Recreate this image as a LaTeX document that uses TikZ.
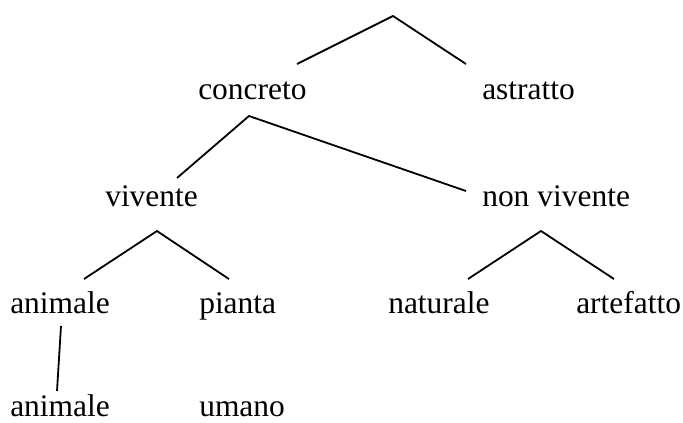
\documentclass[tikz,border=0pt]{standalone}
\usepackage{fontspec}
\setmainfont{Liberation Serif}
\begin{document}
\begin{tikzpicture}[x=0.75pt,y=-0.75pt,
  lbl/.style={anchor=base west,inner sep=0pt,font=\fontsize{23.6}{28}\selectfont},
  edge/.style={line width=1.35pt,black}]
\useasboundingbox (0,0) rectangle (683,422);
% labels
\node[lbl] (concreto) at (198,99.5) {concreto};
\node[lbl] (astratto) at (482,99.5) {astratto};
\node[lbl] (vivente) at (105,206) {vivente};
\node[lbl] (nonvivente) at (482,206) {non vivente};
\node[lbl] (animale) at (10,313) {animale};
\node[lbl] (pianta) at (199,313) {pianta};
\node[lbl] (naturale) at (388,313) {naturale};
\node[lbl] (artefatto) at (576,313) {artefatto};
\node[lbl] (animale2) at (10,416) {animale};
\node[lbl] (umano) at (199,416) {umano};
% connector ends
\coordinate (root) at (393,16);
\coordinate (concreto-top) at (297,64);
\coordinate (astratto-top) at (466,64);
\coordinate (concreto-bot) at (249,116);
\coordinate (vivente-top) at (177,178);
\coordinate (nonvivente-top) at (466,191);
\coordinate (vivente-bot) at (157,231);
\coordinate (animale-top) at (84,279);
\coordinate (pianta-top) at (229,279);
\coordinate (nonvivente-bot) at (541,231);
\coordinate (naturale-top) at (468,279);
\coordinate (artefatto-top) at (614,279);
\coordinate (animale-bot) at (61,326);
\coordinate (animale2-top) at (57,391);
% connectors
\draw[edge] (concreto-top) -- (root) -- (astratto-top);
\draw[edge] (vivente-top) -- (concreto-bot) -- (nonvivente-top);
\draw[edge] (animale-top) -- (vivente-bot) -- (pianta-top);
\draw[edge] (naturale-top) -- (nonvivente-bot) -- (artefatto-top);
\draw[edge] (animale-bot) -- (animale2-top);
\end{tikzpicture}
\end{document}
